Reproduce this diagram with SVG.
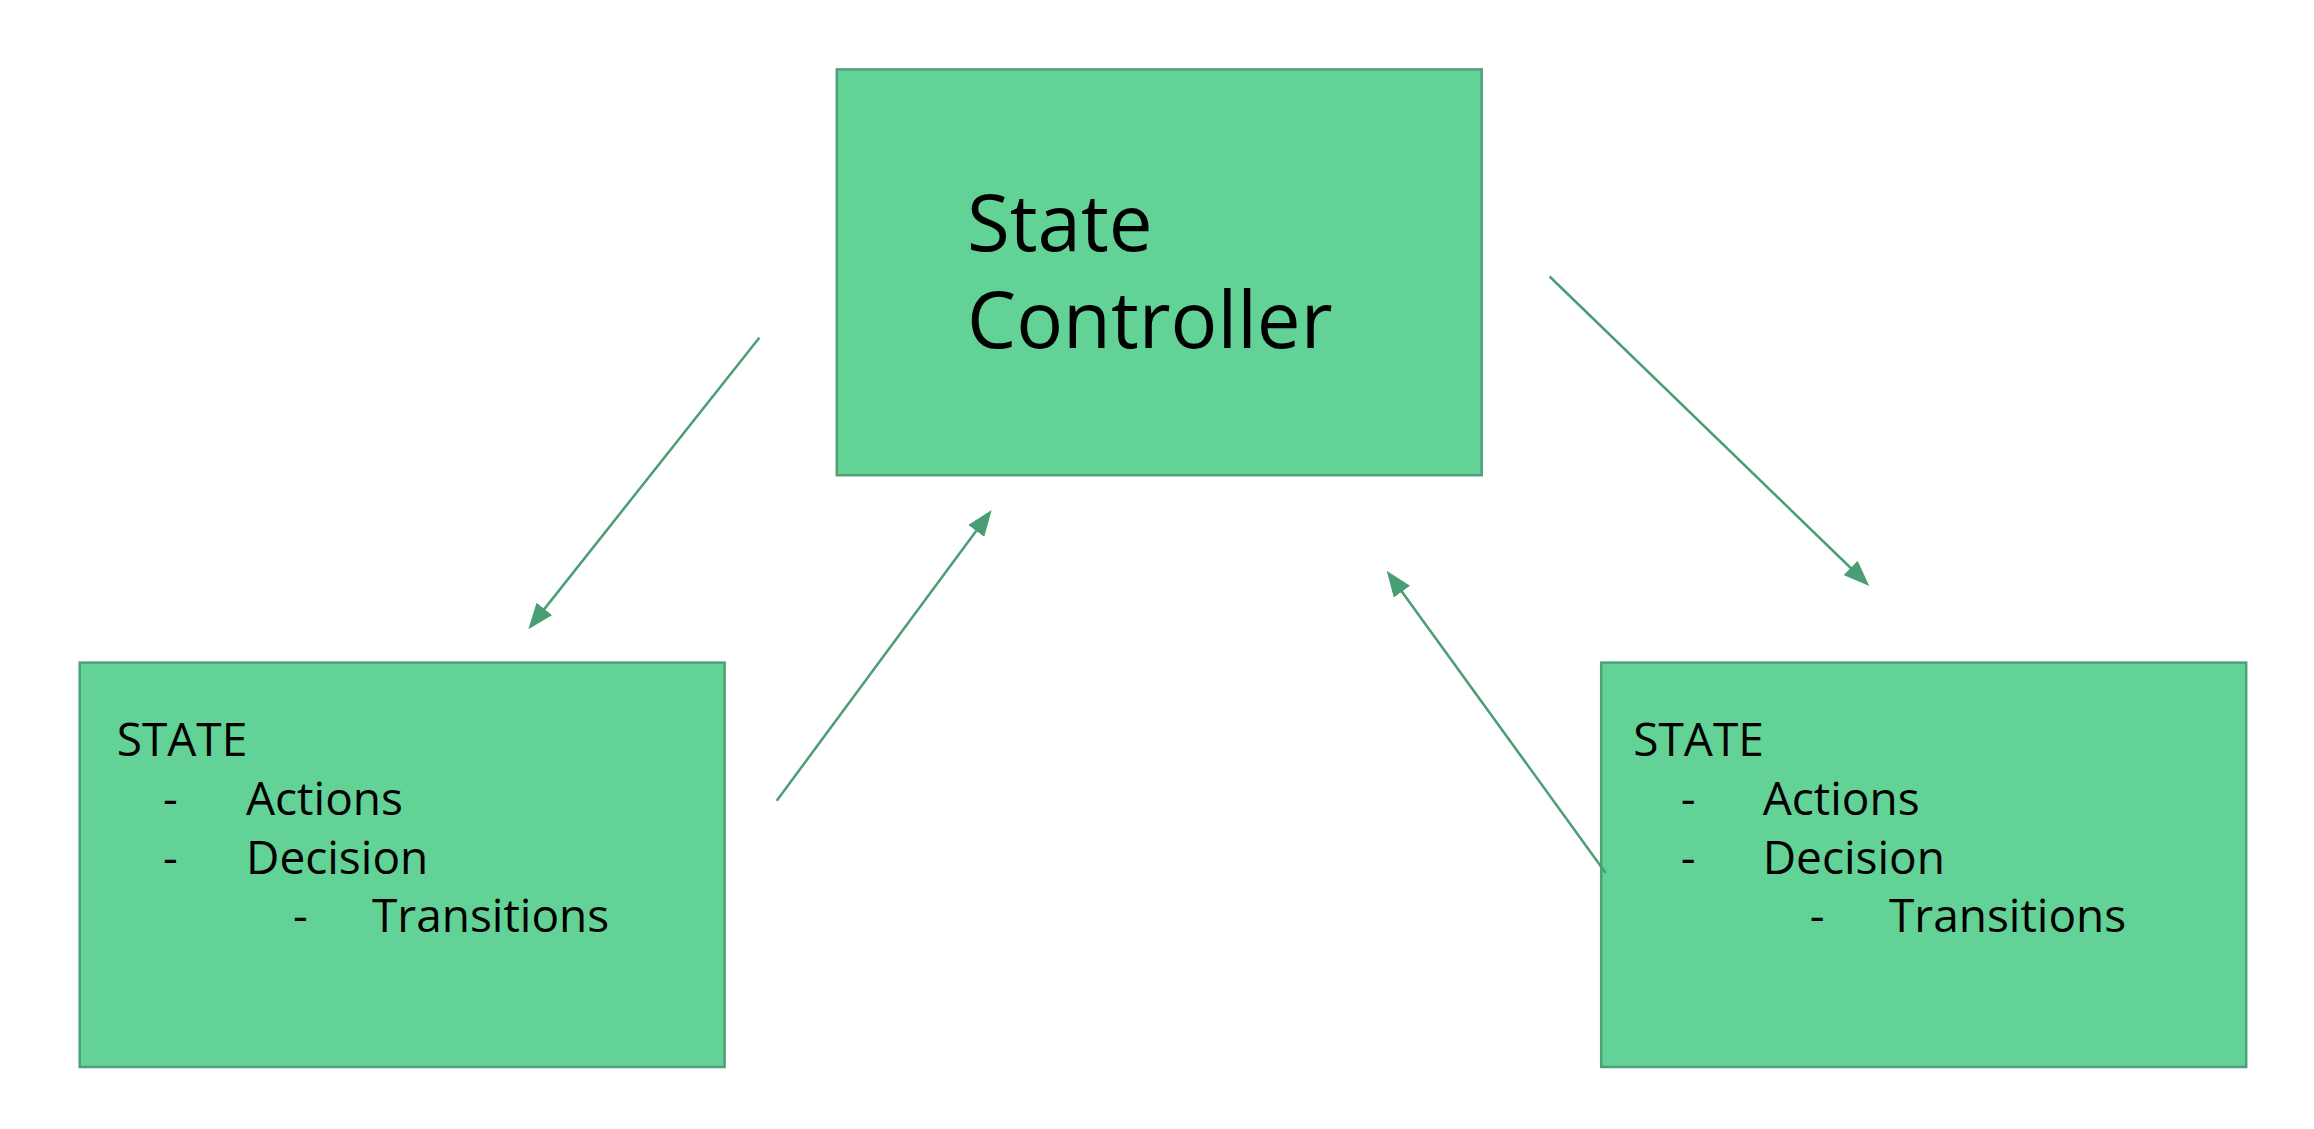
<svg xmlns="http://www.w3.org/2000/svg" width="2314" height="1129" viewBox="0 0 2314 1129">
  <style>
    .box { fill: #62d296; stroke: #4f9f77; stroke-width: 2.5; }
    .t { font-family: "Open Sans", "Liberation Sans", sans-serif; fill: #000000; }
    .big { font-size: 78px; }
    .small { font-size: 46px; }
    .conn { stroke: #4a9e75; stroke-width: 2.5; fill: none; marker-end: url(#arrow); }
  </style>
  <defs>
    <marker id="arrow" markerUnits="userSpaceOnUse" viewBox="0 0 26 20" markerWidth="26" markerHeight="20" refX="21" refY="10" orient="auto">
      <path d="M0,0 L26,10 L0,20 z" fill="#4a9e75"/>
    </marker>
  </defs>
  <rect width="2314" height="1129" fill="#ffffff"/>

  <g id="node-controller">
    <rect class="box" x="836.8" y="69.4" width="644.9" height="405.8"/>
    <text class="t big" x="967" y="251">State</text>
    <text class="t big" x="967" y="348">Controller</text>
  </g>

  <g id="node-state-left">
    <rect class="box" x="79.7" y="662.6" width="644.9" height="404.4"/>
    <text class="t small" x="116.7" y="756">STATE</text>
    <text class="t small" x="163" y="815">-</text>
    <text class="t small" x="246" y="815">Actions</text>
    <text class="t small" x="163" y="873.5">-</text>
    <text class="t small" x="246" y="873.5">Decision</text>
    <text class="t small" x="293" y="932">-</text>
    <text class="t small" x="372" y="932">Transitions</text>
  </g>

  <g id="node-state-right">
    <rect class="box" x="1601.2" y="662.6" width="645" height="404.4"/>
    <text class="t small" x="1633.3" y="756">STATE</text>
    <text class="t small" x="1680.7" y="815">-</text>
    <text class="t small" x="1762.7" y="815">Actions</text>
    <text class="t small" x="1680.7" y="873.5">-</text>
    <text class="t small" x="1762.7" y="873.5">Decision</text>
    <text class="t small" x="1809.7" y="932">-</text>
    <text class="t small" x="1889" y="932">Transitions</text>
  </g>

  <g id="connectors">
    <line class="conn" x1="759.3" y1="337.7" x2="531.4" y2="625.4"/>
    <line class="conn" x1="776.7" y1="800.7" x2="988.7" y2="514.0"/>
    <line class="conn" x1="1549.6" y1="276.5" x2="1865.7" y2="582.5"/>
    <line class="conn" x1="1605.7" y1="873" x2="1389.6" y2="574.7"/>
  </g>
</svg>
